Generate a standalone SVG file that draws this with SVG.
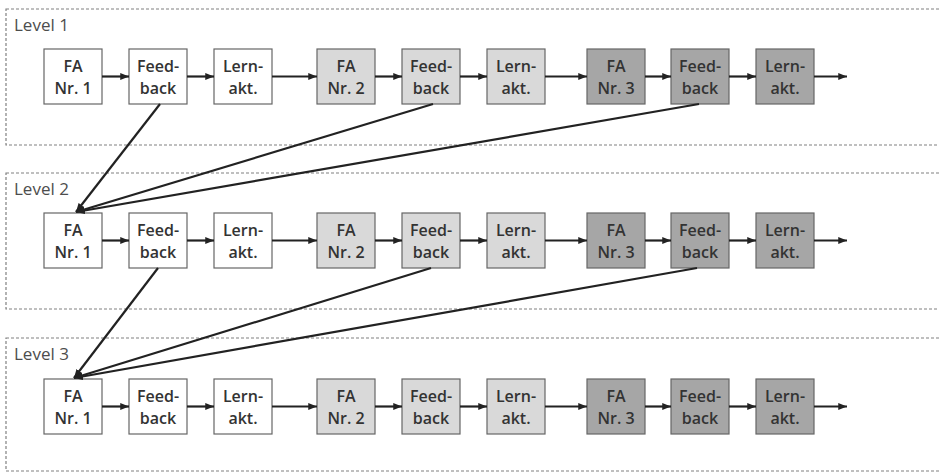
<svg xmlns="http://www.w3.org/2000/svg" width="939" height="473" viewBox="0 0 939 473">
  <style>
    .lvl { fill: none; stroke: #808080; stroke-width: 1.2; stroke-dasharray: 3 2; }
    .lvl-label { font-family: "Open Sans", "Liberation Sans", sans-serif; font-size: 17px; fill: #4d4d4d; }
    .box { stroke: #666666; stroke-width: 1.2; }
    .w { fill: #ffffff; }
    .l { fill: #d9d9d9; }
    .d { fill: #a6a6a6; }
    .t { font-family: "Open Sans", "Liberation Sans", sans-serif; font-size: 16px; font-weight: 600; fill: #333333; text-anchor: middle; }
    .c { fill: none; stroke: #222222; stroke-width: 2.2; marker-end: url(#ah); }
  </style>
  <defs>
    <marker id="ah" viewBox="0 0 10 8" refX="10" refY="4" markerWidth="9" markerHeight="7" markerUnits="userSpaceOnUse" orient="auto">
      <path d="M0,0 L10,4 L0,8 z" fill="#222222"/>
    </marker>
  </defs>

  <rect width="939" height="473" fill="#ffffff"/>

  <!-- level frames -->
  <g id="level1">
    <rect class="lvl" x="6" y="9" width="960" height="136"/>
    <text class="lvl-label" x="14" y="31">Level 1</text>
  </g>
  <g id="level2">
    <rect class="lvl" x="6" y="173" width="960" height="136"/>
    <text class="lvl-label" x="14" y="195">Level 2</text>
  </g>
  <g id="level3">
    <rect class="lvl" x="6" y="338" width="960" height="133"/>
    <text class="lvl-label" x="14" y="360">Level 3</text>
  </g>

  <!-- level 1 nodes -->
  <g id="l1-fa1"><rect class="box w" x="44" y="49" width="58" height="55"/><text class="t" x="73" y="72">FA</text><text class="t" x="73" y="94">Nr. 1</text></g>
  <g id="l1-fb1"><rect class="box w" x="129" y="49" width="58" height="55"/><text class="t" x="158" y="72">Feed-</text><text class="t" x="158" y="94">back</text></g>
  <g id="l1-la1"><rect class="box w" x="214" y="49" width="58" height="55"/><text class="t" x="243" y="72">Lern-</text><text class="t" x="243" y="94">akt.</text></g>
  <g id="l1-fa2"><rect class="box l" x="317" y="49" width="58" height="55"/><text class="t" x="346" y="72">FA</text><text class="t" x="346" y="94">Nr. 2</text></g>
  <g id="l1-fb2"><rect class="box l" x="402" y="49" width="58" height="55"/><text class="t" x="431" y="72">Feed-</text><text class="t" x="431" y="94">back</text></g>
  <g id="l1-la2"><rect class="box l" x="487" y="49" width="58" height="55"/><text class="t" x="516" y="72">Lern-</text><text class="t" x="516" y="94">akt.</text></g>
  <g id="l1-fa3"><rect class="box d" x="587" y="49" width="58" height="55"/><text class="t" x="616" y="72">FA</text><text class="t" x="616" y="94">Nr. 3</text></g>
  <g id="l1-fb3"><rect class="box d" x="671" y="49" width="58" height="55"/><text class="t" x="700" y="72">Feed-</text><text class="t" x="700" y="94">back</text></g>
  <g id="l1-la3"><rect class="box d" x="756" y="49" width="58" height="55"/><text class="t" x="785" y="72">Lern-</text><text class="t" x="785" y="94">akt.</text></g>

  <!-- level 2 nodes -->
  <g id="l2-fa1"><rect class="box w" x="44" y="213" width="58" height="55"/><text class="t" x="73" y="236">FA</text><text class="t" x="73" y="258">Nr. 1</text></g>
  <g id="l2-fb1"><rect class="box w" x="129" y="213" width="58" height="55"/><text class="t" x="158" y="236">Feed-</text><text class="t" x="158" y="258">back</text></g>
  <g id="l2-la1"><rect class="box w" x="214" y="213" width="58" height="55"/><text class="t" x="243" y="236">Lern-</text><text class="t" x="243" y="258">akt.</text></g>
  <g id="l2-fa2"><rect class="box l" x="317" y="213" width="58" height="55"/><text class="t" x="346" y="236">FA</text><text class="t" x="346" y="258">Nr. 2</text></g>
  <g id="l2-fb2"><rect class="box l" x="402" y="213" width="58" height="55"/><text class="t" x="431" y="236">Feed-</text><text class="t" x="431" y="258">back</text></g>
  <g id="l2-la2"><rect class="box l" x="487" y="213" width="58" height="55"/><text class="t" x="516" y="236">Lern-</text><text class="t" x="516" y="258">akt.</text></g>
  <g id="l2-fa3"><rect class="box d" x="587" y="213" width="58" height="55"/><text class="t" x="616" y="236">FA</text><text class="t" x="616" y="258">Nr. 3</text></g>
  <g id="l2-fb3"><rect class="box d" x="671" y="213" width="58" height="55"/><text class="t" x="700" y="236">Feed-</text><text class="t" x="700" y="258">back</text></g>
  <g id="l2-la3"><rect class="box d" x="756" y="213" width="58" height="55"/><text class="t" x="785" y="236">Lern-</text><text class="t" x="785" y="258">akt.</text></g>

  <!-- level 3 nodes -->
  <g id="l3-fa1"><rect class="box w" x="44" y="379" width="58" height="55"/><text class="t" x="73" y="402">FA</text><text class="t" x="73" y="424">Nr. 1</text></g>
  <g id="l3-fb1"><rect class="box w" x="129" y="379" width="58" height="55"/><text class="t" x="158" y="402">Feed-</text><text class="t" x="158" y="424">back</text></g>
  <g id="l3-la1"><rect class="box w" x="214" y="379" width="58" height="55"/><text class="t" x="243" y="402">Lern-</text><text class="t" x="243" y="424">akt.</text></g>
  <g id="l3-fa2"><rect class="box l" x="317" y="379" width="58" height="55"/><text class="t" x="346" y="402">FA</text><text class="t" x="346" y="424">Nr. 2</text></g>
  <g id="l3-fb2"><rect class="box l" x="402" y="379" width="58" height="55"/><text class="t" x="431" y="402">Feed-</text><text class="t" x="431" y="424">back</text></g>
  <g id="l3-la2"><rect class="box l" x="487" y="379" width="58" height="55"/><text class="t" x="516" y="402">Lern-</text><text class="t" x="516" y="424">akt.</text></g>
  <g id="l3-fa3"><rect class="box d" x="587" y="379" width="58" height="55"/><text class="t" x="616" y="402">FA</text><text class="t" x="616" y="424">Nr. 3</text></g>
  <g id="l3-fb3"><rect class="box d" x="671" y="379" width="58" height="55"/><text class="t" x="700" y="402">Feed-</text><text class="t" x="700" y="424">back</text></g>
  <g id="l3-la3"><rect class="box d" x="756" y="379" width="58" height="55"/><text class="t" x="785" y="402">Lern-</text><text class="t" x="785" y="424">akt.</text></g>

  <!-- connectors -->
  <g id="connectors">
    <!-- level 1 sequence -->
    <line class="c" x1="102" y1="76.5" x2="129" y2="76.5"/>
    <line class="c" x1="187" y1="76.5" x2="214" y2="76.5"/>
    <line class="c" x1="272" y1="76.5" x2="317" y2="76.5"/>
    <line class="c" x1="375" y1="76.5" x2="402" y2="76.5"/>
    <line class="c" x1="460" y1="76.5" x2="487" y2="76.5"/>
    <line class="c" x1="545" y1="76.5" x2="587" y2="76.5"/>
    <line class="c" x1="645" y1="76.5" x2="671" y2="76.5"/>
    <line class="c" x1="729" y1="76.5" x2="756" y2="76.5"/>
    <line class="c" x1="814" y1="76.5" x2="847" y2="76.5"/>
    <!-- level 2 sequence -->
    <line class="c" x1="102" y1="240.5" x2="129" y2="240.5"/>
    <line class="c" x1="187" y1="240.5" x2="214" y2="240.5"/>
    <line class="c" x1="272" y1="240.5" x2="317" y2="240.5"/>
    <line class="c" x1="375" y1="240.5" x2="402" y2="240.5"/>
    <line class="c" x1="460" y1="240.5" x2="487" y2="240.5"/>
    <line class="c" x1="545" y1="240.5" x2="587" y2="240.5"/>
    <line class="c" x1="645" y1="240.5" x2="671" y2="240.5"/>
    <line class="c" x1="729" y1="240.5" x2="756" y2="240.5"/>
    <line class="c" x1="814" y1="240.5" x2="847" y2="240.5"/>
    <!-- level 3 sequence -->
    <line class="c" x1="102" y1="406.5" x2="129" y2="406.5"/>
    <line class="c" x1="187" y1="406.5" x2="214" y2="406.5"/>
    <line class="c" x1="272" y1="406.5" x2="317" y2="406.5"/>
    <line class="c" x1="375" y1="406.5" x2="402" y2="406.5"/>
    <line class="c" x1="460" y1="406.5" x2="487" y2="406.5"/>
    <line class="c" x1="545" y1="406.5" x2="587" y2="406.5"/>
    <line class="c" x1="645" y1="406.5" x2="671" y2="406.5"/>
    <line class="c" x1="729" y1="406.5" x2="756" y2="406.5"/>
    <line class="c" x1="814" y1="406.5" x2="847" y2="406.5"/>
    <!-- feedback from level 1 into level 2 -->
    <line class="c" x1="160" y1="104" x2="76" y2="212"/>
    <line class="c" x1="433" y1="104" x2="76" y2="212"/>
    <line class="c" x1="699" y1="104" x2="76" y2="212"/>
    <!-- feedback from level 2 into level 3 -->
    <line class="c" x1="158" y1="268" x2="74" y2="378"/>
    <line class="c" x1="431" y1="268" x2="74" y2="378"/>
    <line class="c" x1="697" y1="268" x2="74" y2="378"/>
  </g>
</svg>
